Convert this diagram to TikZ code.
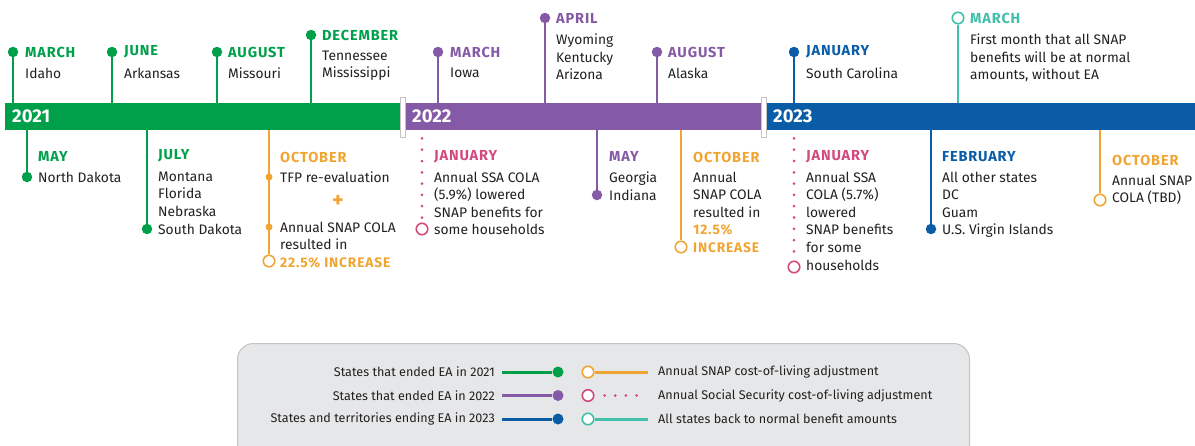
\documentclass[tikz,border=0pt]{standalone}
\usepackage{fontspec}
\setmainfont{Fira Sans}
\newfontfamily\monfont[LetterSpace=6.0]{Fira Sans}
\usetikzlibrary{positioning}
\definecolor{cgreen}{HTML}{00A04B}
\definecolor{cpurple}{HTML}{845AA6}
\definecolor{cblue}{HTML}{0A5CA6}
\definecolor{corange}{HTML}{F0A533}
\definecolor{cpink}{HTML}{D24B7C}
\definecolor{cteal}{HTML}{40BFAA}
\definecolor{ink}{HTML}{231F20}
\definecolor{legfill}{HTML}{E6E7E8}
\definecolor{legline}{HTML}{C4C4C4}
\tikzset{
  bar/.style={rectangle, inner sep=0, minimum height=27pt, anchor=north west, fill=#1},
  yearlbl/.style={anchor=west, inner sep=0, text=white, font=\fontsize{18.5}{18.5}\selectfont\bfseries},
  knob/.style={circle, inner sep=0, minimum size=10.5pt, fill=#1},
  dotlet/.style={circle, inner sep=0, minimum size=7pt, fill=#1},
  hollow/.style={circle, inner sep=0, minimum size=11.5pt, fill=white, draw=#1, line width=1.6pt},
  stalk/.style={line width=2.4pt, draw=#1},
  dotline/.style={line width=3pt, draw=cpink, line cap=round, dash pattern=on 0pt off 11.3pt},
  mon/.style={anchor=west, inner sep=0, text=#1, font=\monfont\fontsize{14.5}{17.5}\selectfont\bfseries},
  txt/.style={anchor=north west, inner sep=0, align=left, text=ink, font=\fontsize{13.8}{17.6}\selectfont},
  sepbox/.style={rectangle, inner sep=0, minimum width=5pt, minimum height=40pt, fill=white, draw=legline, line width=0.8pt},
  legtxt/.style={inner sep=0, text=ink, font=\fontsize{12.6}{14}\selectfont}
}
\newcommand{\hilite}[1]{\textcolor{corange}{\monfont\bfseries #1}}
\begin{document}
\begin{tikzpicture}[x=1pt, y=-1pt]
  \useasboundingbox (0,0) rectangle (1195,445);
  % timeline bars
  \node[bar=cgreen, minimum width=395pt] (bar21) at (5,103) {};
  \node[bar=cpurple, minimum width=356pt] (bar22) at (405,103) {};
  \node[bar=cblue, minimum width=429pt] (bar23) at (766,103) {};
  \node[sepbox] (sep1) at (402.5,117) {};
  \node[sepbox] (sep2) at (763.5,117) {};
  \node[yearlbl] (y21) at (12,116.5) {2021};
  \node[yearlbl] (y22) at (412,116.5) {2022};
  \node[yearlbl] (y23) at (773,116.5) {2023};

  % 2021, above
  \node[knob=cgreen] (mar21) at (13,52) {};
  \draw[stalk=cgreen] (mar21) -- (mar21 |- bar21.north);
  \node[mon=cgreen] (mar21m) at (25,52) {MARCH};
  \node[txt] (mar21t) at (25,67.5) {Idaho};
  \node[knob=cgreen] (jun21) at (112,52) {};
  \draw[stalk=cgreen] (jun21) -- (jun21 |- bar21.north);
  \node[mon=cgreen] (jun21m) at (124,52) {JUNE};
  \node[txt] (jun21t) at (124,67.5) {Arkansas};
  \node[knob=cgreen] (aug21) at (217,52) {};
  \draw[stalk=cgreen] (aug21) -- (aug21 |- bar21.north);
  \node[mon=cgreen] (aug21m) at (228,52) {AUGUST};
  \node[txt] (aug21t) at (228,67.5) {Missouri};
  \node[knob=cgreen] (dec21) at (311,35) {};
  \draw[stalk=cgreen] (dec21) -- (dec21 |- bar21.north);
  \node[mon=cgreen] (dec21m) at (322,35) {DECEMBER};
  \node[txt] (dec21t) at (322,50.5) {Tennessee\\Mississippi};

  % 2021, below
  \node[knob=cgreen] (may21) at (27,177) {};
  \draw[stalk=cgreen] (may21 |- bar21.south) -- (may21);
  \node[mon=cgreen] (may21m) at (38,156) {MAY};
  \node[txt] (may21t) at (38,171.5) {North Dakota};
  \node[knob=cgreen] (jul21) at (147,229) {};
  \draw[stalk=cgreen] (jul21 |- bar21.south) -- (jul21);
  \node[mon=cgreen] (jul21m) at (158,156) {JULY};
  \node[txt] (jul21t) at (158,171.5) {Montana\\Florida\\Nebraska\\South Dakota};
  \node[hollow=corange] (oct21) at (269,261) {};
  \draw[stalk=corange] (oct21 |- bar21.south) -- (oct21);
  \node[dotlet=corange] (oct21a) at (269,177) {};
  \node[dotlet=corange] (oct21b) at (269,227) {};
  \node[mon=corange] (oct21m) at (280,157) {OCTOBER};
  \node[txt] (oct21t) at (280,171.5) {TFP re-evaluation};
  \node[inner sep=0, text=corange, font=\fontsize{22}{22}\selectfont\bfseries] (oct21p) at (338,201) {+};
  \node[txt] (oct21u) at (280,221.5) {Annual SNAP COLA\\resulted in\\\hilite{22.5\% INCREASE}};

  % 2022, above
  \node[knob=cpurple] (mar22) at (438,52) {};
  \draw[stalk=cpurple] (mar22) -- (mar22 |- bar22.north);
  \node[mon=cpurple] (mar22m) at (450,52) {MARCH};
  \node[txt] (mar22t) at (450,67.5) {Iowa};
  \node[knob=cpurple] (apr22) at (545,18) {};
  \draw[stalk=cpurple] (apr22) -- (apr22 |- bar22.north);
  \node[mon=cpurple] (apr22m) at (556,18) {APRIL};
  \node[txt] (apr22t) at (556,33.5) {Wyoming\\Kentucky\\Arizona};
  \node[knob=cpurple] (aug22) at (657,52) {};
  \draw[stalk=cpurple] (aug22) -- (aug22 |- bar22.north);
  \node[mon=cpurple] (aug22m) at (668,52) {AUGUST};
  \node[txt] (aug22t) at (668,67.5) {Alaska};

  % 2022, below
  \node[hollow=cpink] (jan22) at (422,229) {};
  \draw[dotline, shorten <=8pt] (jan22 |- bar22.south) -- (jan22);
  \node[mon=cpink] (jan22m) at (434,157) {JANUARY};
  \node[txt] (jan22t) at (434,171.5) {Annual SSA COLA\\(5.9\%) lowered\\SNAP benefits for\\some households};
  \node[knob=cpurple] (may22) at (597,195) {};
  \draw[stalk=cpurple] (may22 |- bar22.south) -- (may22);
  \node[mon=cpurple] (may22m) at (609,156) {MAY};
  \node[txt] (may22t) at (609,171.5) {Georgia\\Indiana};
  \node[hollow=corange] (oct22) at (681,247) {};
  \draw[stalk=corange] (oct22 |- bar22.south) -- (oct22);
  \node[mon=corange] (oct22m) at (693,157) {OCTOBER};
  \node[txt] (oct22t) at (693,171.5) {Annual\\SNAP COLA\\resulted in\\\hilite{12.5\%}\\\hilite{INCREASE}};

  % 2023, above
  \node[knob=cblue] (jan23) at (794,52) {};
  \draw[stalk=cblue] (jan23) -- (jan23 |- bar23.north);
  \node[mon=cblue] (jan23m) at (806,52) {JANUARY};
  \node[txt] (jan23t) at (806,67.5) {South Carolina};
  \node[hollow=cteal] (mar23) at (958,18) {};
  \draw[stalk=cteal] (mar23) -- (mar23 |- bar23.north);
  \node[mon=cteal] (mar23m) at (970,18) {MARCH};
  \node[txt] (mar23t) at (970,33.5) {First month that all SNAP\\benefits will be at normal\\amounts, without EA};

  % 2023, below
  \node[hollow=cpink] (jan23s) at (794,267) {};
  \draw[dotline, shorten <=8pt] (jan23s |- bar23.south) -- (jan23s);
  \node[mon=cpink] (jan23sm) at (806,157) {JANUARY};
  \node[txt] (jan23st) at (806,171.5) {Annual SSA\\COLA (5.7\%)\\lowered\\SNAP benefits\\for some\\households};
  \node[knob=cblue] (feb23) at (931,229) {};
  \draw[stalk=cblue] (feb23 |- bar23.south) -- (feb23);
  \node[mon=cblue] (feb23m) at (942,157) {FEBRUARY};
  \node[txt] (feb23t) at (942,171.5) {All other states\\DC\\Guam\\U.S. Virgin Islands};
  \node[hollow=corange] (oct23) at (1100,200) {};
  \draw[stalk=corange] (oct23 |- bar23.south) -- (oct23);
  \node[mon=corange] (oct23m) at (1112,160) {OCTOBER};
  \node[txt] (oct23t) at (1112,174.5) {Annual SNAP\\COLA (TBD)};

  % legend
  \node[rectangle, rounded corners=16pt, fill=legfill, draw=legline, line width=1pt,
        minimum width=732pt, minimum height=120pt, anchor=north west] (legend) at (237,343) {};
  \node[legtxt, anchor=east] (k1) at (495,372) {States that ended EA in 2021};
  \node[legtxt, anchor=east] (k2) at (495,395.5) {States that ended EA in 2022};
  \node[legtxt, anchor=east] (k3) at (495,419) {States and territories ending EA in 2023};
  \coordinate (k1a) at (502,372);
  \coordinate (k2a) at (502,395.5);
  \coordinate (k3a) at (502,419);
  \node[knob=cgreen, minimum size=11pt] (k1d) at (558,372) {};
  \node[knob=cpurple, minimum size=11pt] (k2d) at (558,395.5) {};
  \node[knob=cblue, minimum size=11pt] (k3d) at (558,419) {};
  \draw[stalk=cgreen, line width=3pt] (k1a) -- (k1d);
  \draw[stalk=cpurple, line width=3pt] (k2a) -- (k2d);
  \draw[stalk=cblue, line width=3pt] (k3a) -- (k3d);
  \node[hollow=corange] (r1c) at (588,372) {};
  \node[hollow=cpink] (r2c) at (588,395.5) {};
  \node[hollow=cteal] (r3c) at (588,419) {};
  \coordinate (r1e) at (648,372);
  \coordinate (r2e) at (640,395.5);
  \coordinate (r3e) at (648,419);
  \draw[stalk=corange, line width=3pt] (r1c) -- (r1e);
  \draw[dotline, dash pattern=on 0pt off 10.7pt, shorten <=10pt] (r2c) -- (r2e);
  \draw[stalk=cteal, line width=3pt] (r3c) -- (r3e);
  \node[legtxt, anchor=west] (r1) at (658,372) {Annual SNAP cost-of-living adjustment};
  \node[legtxt, anchor=west] (r2) at (658,395.5) {Annual Social Security cost-of-living adjustment};
  \node[legtxt, anchor=west] (r3) at (658,419) {All states back to normal benefit amounts};
\end{tikzpicture}
\end{document}
